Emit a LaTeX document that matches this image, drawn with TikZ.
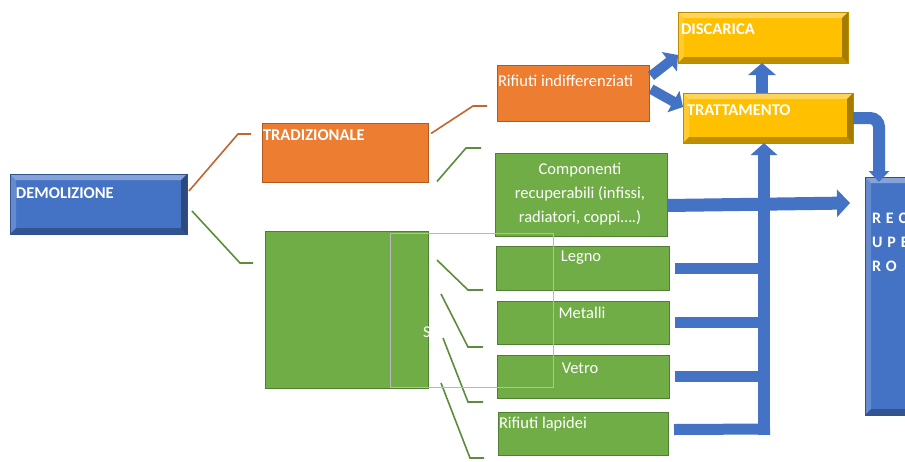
\documentclass[tikz,border=0pt]{standalone}
\usepackage{fontspec}
\setmainfont{Carlito}
\usetikzlibrary{arrows.meta}
\definecolor{cblue}{HTML}{4472C4}
\definecolor{cblueD}{HTML}{2F528F}
\definecolor{corange}{HTML}{ED7D31}
\definecolor{corangeD}{HTML}{AE5A21}
\definecolor{cgreen}{HTML}{70AD47}
\definecolor{cgreenD}{HTML}{507E32}
\definecolor{cyellow}{HTML}{FFC000}
\definecolor{cyellowD}{HTML}{BC8C00}
\definecolor{orline}{HTML}{C0662E}
\definecolor{grline}{HTML}{5E8C3A}
\begin{document}
\begin{tikzpicture}[x=1pt,y=-1pt,
  box/.style={anchor=north west, inner sep=0pt, outer sep=0pt, line width=1pt},
  flat/.style 2 args={box, fill=#1, draw=#2},
  bevel/.style n args={3}{box, fill=#1, draw=#2,
    path picture={
      \fill[white, fill opacity=.35] (path picture bounding box.north west) -- (path picture bounding box.north east)
        -- ([shift={(-#3,-#3)}]path picture bounding box.north east) -- ([shift={(#3,-#3)}]path picture bounding box.north west) -- cycle;
      \fill[white, fill opacity=.18] (path picture bounding box.north west) -- (path picture bounding box.south west)
        -- ([shift={(#3,#3)}]path picture bounding box.south west) -- ([shift={(#3,-#3)}]path picture bounding box.north west) -- cycle;
      \fill[black, fill opacity=.25] (path picture bounding box.south west) -- (path picture bounding box.south east)
        -- ([shift={(-#3,#3)}]path picture bounding box.south east) -- ([shift={(#3,#3)}]path picture bounding box.south west) -- cycle;
      \fill[black, fill opacity=.35] (path picture bounding box.north east) -- (path picture bounding box.south east)
        -- ([shift={(-#3,#3)}]path picture bounding box.south east) -- ([shift={(-#3,-#3)}]path picture bounding box.north east) -- cycle;
    }},
  txt/.style={inner sep=0pt, outer sep=0pt, text=white, font=\fontsize{16.5}{20}\selectfont},
  btxt/.style={txt, font=\fontsize{16.5}{20}\selectfont\bfseries},
  oline/.style={draw=orline, line width=1.6pt},
  gline/.style={draw=grline, line width=1.6pt},
  fat/.style={draw=cblue, line width=#1},
  fat/.default=12pt
]
\fill[white] (0,0) rectangle (905,461);
\useasboundingbox (0,0) rectangle (905,461);
\clip (0,0) rectangle (905,461);

% ---------- boxes ----------
\node[bevel={cblue}{cblueD}{6pt}, minimum width=177pt, minimum height=60pt] (demo) at (10,174) {};
\node[flat={corange}{corangeD}, minimum width=166pt, minimum height=59pt] (trad) at (262,123) {};
\node[flat={cgreen}{cgreenD}, minimum width=163pt, minimum height=157pt] (sel) at (265,231) {};
\node[flat={corange}{corangeD}, minimum width=152pt, minimum height=56pt] (indiff) at (497,65) {};
\node[bevel={cyellow}{cyellowD}{6pt}, minimum width=170pt, minimum height=51pt] (disc) at (678,12) {};
\node[bevel={cyellow}{cyellowD}{6pt}, minimum width=170pt, minimum height=50pt] (tratt) at (683,93) {};
\node[flat={cgreen}{cgreenD}, minimum width=172pt, minimum height=83pt] (comp) at (495,153) {};
\node[flat={cgreen}{cgreenD}, minimum width=173pt, minimum height=44pt] (legno) at (496,246) {};
\node[flat={cgreen}{cgreenD}, minimum width=172pt, minimum height=43pt] (metalli) at (497,301) {};
\node[flat={cgreen}{cgreenD}, minimum width=172pt, minimum height=43pt] (vetro) at (497,355) {};
\node[flat={cgreen}{cgreenD}, minimum width=170pt, minimum height=43pt] (lapidei) at (498,412) {};
\node[bevel={cblue}{cblueD}{6pt}, minimum width=90pt, minimum height=238pt] (recup) at (865,177) {};

% ---------- texts ----------
\node[btxt, anchor=west] (tdemo) at (16,193) {DEMOLIZIONE};
\node[btxt, anchor=west] (ttrad) at (263,135) {TRADIZIONALE};
\node[txt, anchor=west] (tindiff) at (498,81) {Rifiuti indifferenziati};
\node[btxt, anchor=west] (tdisc) at (681,29) {DISCARICA};
\node[btxt, anchor=west] (ttratt) at (687,110) {TRATTAMENTO};
\node[txt, align=center, font=\fontsize{16.5}{24}\selectfont] (tcomp) at (580,194)
  {Componenti\\recuperabili (infissi,\\radiatori, coppi….)};
\node[txt] (tlegno) at (581,258) {Legno};
\node[txt] (tmetalli) at (582,313) {Metalli};
\node[txt] (tvetro) at (580,368) {Vetro};
\node[txt, anchor=west] (tlapidei) at (499,424) {Rifiuti lapidei};
\node[txt, anchor=north west, align=left, font=\fontsize{16}{24}\selectfont\bfseries\addfontfeature{LetterSpace=8}] (trecup) at (872,213)
  {R E C\\U P E\\R O};
\node[txt, anchor=west] (tsel) at (423,332) {S};

% ---------- thin connectors ----------
\draw[oline] ([shift={(2,-13)}]demo.east) -- (238,134) -- ([shift={(-11,0)}]trad.north west |- 0,134);
\draw[gline] ([shift={(5,7)}]demo.east) -- (240,263) -- ([xshift=-12pt]sel.west |- 0,263);
\draw[oline] ([shift={(3,-19)}]trad.east) -- (473,106) -- ([xshift=-10pt]indiff.west |- 0,106);
\draw[gline] ([shift={(9,29)}]trad.east) -- (466,148) -- ([xshift=-14pt]comp.west |- 0,148);
\draw[gline] (437,260) -- (468,290) -- ([xshift=-13pt]legno.west |- 0,290);
\draw[gline] (441,294) -- (468,347) -- ([xshift=-14pt]metalli.west |- 0,347);
\draw[gline] (443,338) -- (468,402) -- ([xshift=-14pt]vetro.west |- 0,402);
\draw[gline] (441,383) -- (470,458) -- ([xshift=-14pt]lapidei.west |- 0,458);

% ---------- blue arrows ----------
\coordinate (tb) at (764,435);
\draw[fat=11pt] ([xshift=6pt]legno.east) -- (tb |- legno.east);
\draw[fat=11pt] ([xshift=6pt]metalli.east) -- (tb |- metalli.east);
\draw[fat=11pt] ([xshift=6pt]vetro.east) -- (tb |- vetro.east);
\draw[fat=11pt] ([shift={(6,-4)}]lapidei.east) -- ([xshift=6pt]tb |- 0,429);
\draw[fat, -{Triangle[width=26pt,length=12pt]}] (tb) -- (tb |- tratt.south);
\draw[fat=13pt, -{Triangle[width=27pt,length=13pt]}] ([yshift=-11pt]comp.east) -- (850,203);
\draw[fat=10pt, -{Triangle[width=24pt,length=11pt]}] (651,76) -- (disc.west |- 0,55);
\draw[fat=10pt, -{Triangle[width=24pt,length=11pt]}] (651,89) -- (tratt.west |- 0,107);
\draw[fat, -{Triangle[width=27pt,length=12pt]}] (tratt.north -| 762,0) -- (disc.south -| 762,0);
\draw[fat, rounded corners=9pt, -{Triangle[width=20pt,length=11pt]}] (tratt.east) -- (879,118) -- ([yshift=-5pt]recup.north west -| 879,0);

% ---------- overlay frame ----------
\draw[gray!55, line width=1pt] (390,233) rectangle (553,387);
\end{tikzpicture}
\end{document}
